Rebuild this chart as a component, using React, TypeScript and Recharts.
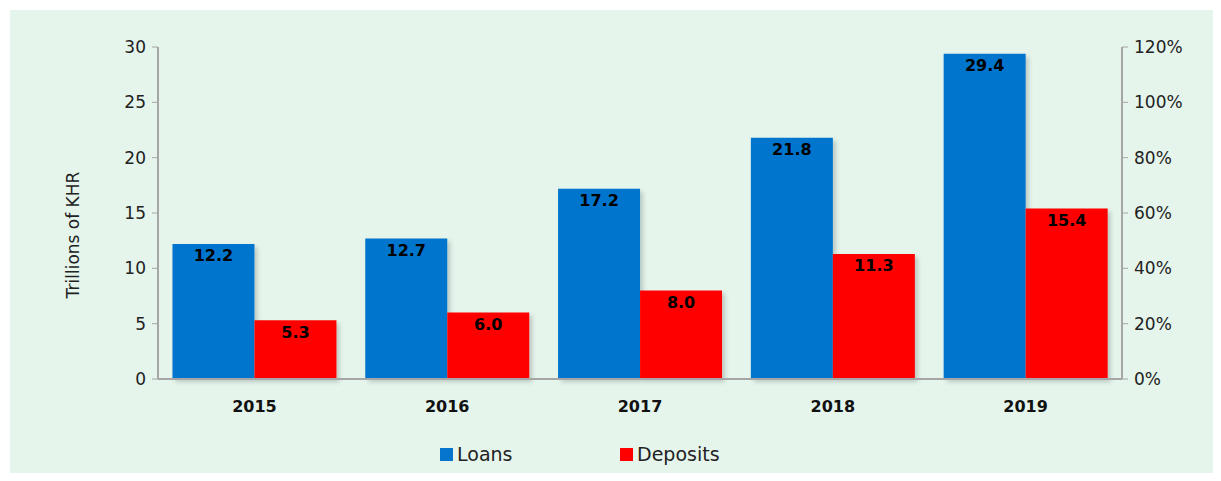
import { ComposedChart, Bar, Line, XAxis, YAxis, Legend, LabelList, Label } from "recharts";

const years = ["2015", "2016", "2017", "2018", "2019"];
const loans = [12.2, 12.7, 17.2, 21.8, 29.4];
const deposits = [5.3, 6.0, 8.0, 11.3, 15.4];
const leftTicks = [0, 5, 10, 15, 20, 25, 30];
const rightTicks = [0, 0.2, 0.4, 0.6, 0.8, 1.0, 1.2];

const data = years.map((year, i) => ({
  year,
  Loans: loans[i],
  Deposits: deposits[i],
}));

const FONT = "'DejaVu Sans', sans-serif";
const AXIS = "#A6A6A6";

const LegendContent = () => (
  <div
    style={{
      display: "flex",
      paddingLeft: 430,
      fontFamily: FONT,
      fontSize: 19,
      color: "#222",
    }}
  >
    {[
      { name: "Loans", color: "#0575CE" },
      { name: "Deposits", color: "#FF0000" },
    ].map((item) => (
      <div key={item.name} style={{ display: "flex", alignItems: "center", width: 180 }}>
        <span
          style={{
            display: "inline-block",
            width: 13,
            height: 13,
            background: item.color,
            marginRight: 4,
          }}
        />
        {item.name}
      </div>
    ))}
  </div>
);

export default function App() {
  return (
    <div
      style={{
        margin: -8,
        width: 1221,
        height: 481,
        background: "#fff",
        position: "relative",
      }}
    >
      <div
        style={{
          position: "absolute",
          left: 10,
          top: 10,
          width: 1211,
          height: 470,
          background: "#E5F5EC",
        }}
      >
        <ComposedChart
          width={1201}
          height={470}
          data={data}
          barCategoryGap="7.5%"
          barGap={0}
          margin={{ top: 37, right: 0, left: 0, bottom: 0 }}
        >
          <defs>
            <filter id="shadow" x="-10%" y="-10%" width="130%" height="130%">
              <feDropShadow dx="3" dy="3" stdDeviation="2" floodColor="#000" floodOpacity="0.18" />
            </filter>
          </defs>
          <XAxis
            dataKey="year"
            height={79}
            tickLine={false}
            axisLine={{ stroke: AXIS, strokeWidth: 2 }}
            tick={{ fill: "#111", fontSize: 16, fontWeight: 700, fontFamily: FONT }}
            tickMargin={16}
          />
          <YAxis
            yAxisId="left"
            width={148}
            domain={[0, 30]}
            ticks={leftTicks}
            interval={0}
            tickSize={6}
            tickLine={{ stroke: AXIS }}
            axisLine={{ stroke: AXIS, strokeWidth: 2 }}
            tick={{ fill: "#222", fontSize: 17, fontFamily: FONT }}
            tickMargin={6}
          >
            <Label
              content={() => (
                <text
                  x={63}
                  y={225}
                  transform="rotate(-90, 63, 225)"
                  textAnchor="middle"
                  dominantBaseline="central"
                  style={{ fill: "#222", fontSize: 17, fontFamily: FONT }}
                >
                  Trillions of KHR
                </text>
              )}
            />
          </YAxis>
          <YAxis
            yAxisId="right"
            orientation="right"
            width={89}
            domain={[0, 1.2]}
            allowDataOverflow
            includeHidden
            ticks={rightTicks}
            interval={0}
            tickSize={6}
            tickLine={{ stroke: AXIS }}
            axisLine={{ stroke: AXIS, strokeWidth: 2 }}
            tickFormatter={(v: number) => `${Math.round(v * 100)}%`}
            tick={{ fill: "#222", fontSize: 17, fontFamily: FONT }}
            tickMargin={6}
          />
          <Legend
            verticalAlign="bottom"
            content={<LegendContent />}
            wrapperStyle={{ position: "absolute", top: 433, left: 0, width: 1201, bottom: "auto" }}
          />
          <Bar
            yAxisId="left"
            dataKey="Loans"
            fill="#0575CE"
            filter="url(#shadow)"
            isAnimationActive={false}
          >
            <LabelList
              dataKey="Loans"
              position="insideTop"
              offset={6}
              formatter={(v: number) => v.toFixed(1)}
              style={{ fill: "#000", fontSize: 16, fontWeight: 700, fontFamily: FONT }}
            />
          </Bar>
          <Bar
            yAxisId="left"
            dataKey="Deposits"
            fill="#FF0000"
            filter="url(#shadow)"
            isAnimationActive={false}
          >
            <LabelList
              dataKey="Deposits"
              position="insideTop"
              offset={6}
              formatter={(v: number) => v.toFixed(1)}
              style={{ fill: "#000", fontSize: 16, fontWeight: 700, fontFamily: FONT }}
            />
          </Bar>
          <Line
            yAxisId="right"
            dataKey="Loans"
            hide
            legendType="none"
            isAnimationActive={false}
          />
        </ComposedChart>
      </div>
    </div>
  );
}
